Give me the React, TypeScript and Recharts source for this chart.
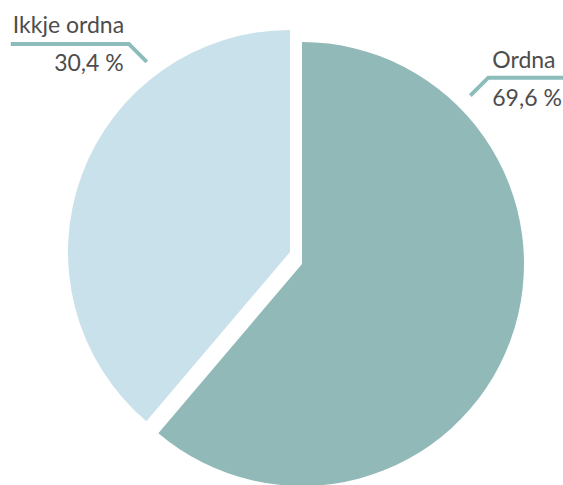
import React from "react";
import { PieChart, Pie, Cell } from "recharts";

const categories = ["Ordna", "Ikkje ordna"];
const sliceValues = [61.2, 38.8];
const valueLabels = ["69,6 %", "30,4 %"];

const data = categories.map((name, i) => ({ name, value: sliceValues[i], label: valueLabels[i] }));

const COLORS = ["#91b9b8", "#c9e1ea"];
const LINE = "#8dbdbb";
const TEXT = "#4d4d4d";
const FONT = "Lato, 'Noto Sans', sans-serif";
const FS = 23;

const renderLabel = (show: number) => (props: any) => {
  const { cx, cy, outerRadius, index } = props;
  if (index !== show) return null;
  const r = outerRadius + 16;
  const d = data[index];
  if (index === 0) {
    const a = (45 * Math.PI) / 180;
    const sx = cx + r * Math.sin(a);
    const sy = cy - r * Math.cos(a);
    const ex = sx + 18;
    const ey = sy - 18;
    return (
      <g>
        <polyline points={`${sx},${sy} ${ex},${ey} ${ex + 80},${ey}`} fill="none" stroke={LINE} strokeWidth={4} />
        <text x={ex + 4} y={ey - 10} fill={TEXT} fontSize={FS} fontFamily={FONT}>{d.name}</text>
        <text x={ex + 4} y={ey + 28} fill={TEXT} fontSize={FS} fontFamily={FONT}>{d.label}</text>
      </g>
    );
  }
  const a = (37 * Math.PI) / 180;
  const sx = cx - r * Math.sin(a);
  const sy = cy - r * Math.cos(a);
  const ex = sx - 18;
  const ey = sy - 18;
  return (
    <g>
      <polyline points={`${sx},${sy} ${ex},${ey} ${ex - 118},${ey}`} fill="none" stroke={LINE} strokeWidth={4} />
      <text x={ex - 116} y={ey - 11} fill={TEXT} fontSize={FS} fontFamily={FONT}>{d.name}</text>
      <text x={ex - 5} y={ey + 27} fill={TEXT} fontSize={FS} fontFamily={FONT} textAnchor="end">{d.label}</text>
    </g>
  );
};

export default function App() {
  return (
    <div style={{ position: "absolute", left: 0, top: 0, background: "#fff" }}>
      <PieChart width={563} height={485} margin={{ top: 0, right: 0, bottom: 0, left: 0 }}>
        <Pie
          data={data}
          dataKey="value"
          cx={302}
          cy={264}
          outerRadius={222}
          startAngle={90}
          endAngle={-270}
          stroke="none"
          isAnimationActive={false}
          labelLine={false}
          label={renderLabel(0)}
        >
          {data.map((d, i) => (
            <Cell key={d.name} fill={i === 0 ? COLORS[0] : "transparent"} />
          ))}
        </Pie>
        <Pie
          data={data}
          dataKey="value"
          cx={290}
          cy={252}
          outerRadius={222}
          startAngle={90}
          endAngle={-270}
          stroke="none"
          isAnimationActive={false}
          labelLine={false}
          label={renderLabel(1)}
        >
          {data.map((d, i) => (
            <Cell key={d.name} fill={i === 1 ? COLORS[1] : "transparent"} />
          ))}
        </Pie>
      </PieChart>
    </div>
  );
}
